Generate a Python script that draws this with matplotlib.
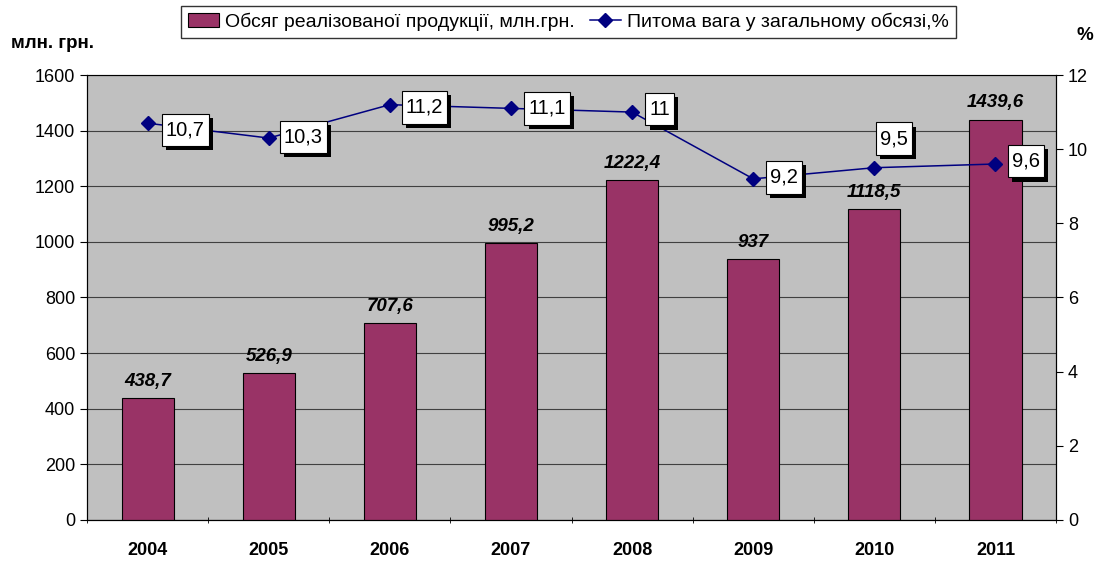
import numpy as np
import matplotlib.pyplot as plt
import matplotlib.patheffects as pe
from matplotlib.path import Path

plt.rcParams['font.family'] = ['Liberation Sans', 'DejaVu Sans']

years = ['2004', '2005', '2006', '2007', '2008', '2009', '2010', '2011']
volume = [438.7, 526.9, 707.6, 995.2, 1222.4, 937, 1118.5, 1439.6]
share = [10.7, 10.3, 11.2, 11.1, 11, 9.2, 9.5, 9.6]

vol_labels = ['438,7', '526,9', '707,6', '995,2', '1222,4', '937', '1118,5', '1439,6']
share_labels = ['10,7', '10,3', '11,2', '11,1', '11', '9,2', '9,5', '9,6']

# label box offsets from points, in points
box_off = [(27, -5), (25, 1), (25, -2), (26, 0), (20, 2), (22, 1), (14, 21), (22, 2)]


def tall_box(x0, y0, width, height, mutation_size):
    # excel-like data label box: little side padding, more on top/bottom
    px, py = 0.2 * mutation_size, 0.33 * mutation_size
    x0, y0 = x0 - px, y0 - py
    x1, y1 = x0 + width + 2 * px, y0 + height + 2 * py
    return Path([(x0, y0), (x1, y0), (x1, y1), (x0, y1), (x0, y0)], closed=True)


fig = plt.figure(figsize=(10.99, 5.61), dpi=100)
ax = fig.add_axes([0.0792, 0.0731, 0.8817, 0.7932])
ax.set_facecolor('#c0c0c0')

x = np.arange(len(years))
bars = ax.bar(x, volume, width=0.43, color='#993366', edgecolor='black', linewidth=0.8, zorder=3,
              label='Обсяг реалізованої продукції, млн.грн.')
for xi, v, s in zip(x, volume, vol_labels):
    ax.annotate(s, (xi, v), xytext=(0, 6), textcoords='offset points', ha='center', va='bottom',
                fontsize=13.5, fontweight='bold', fontstyle='italic', zorder=5)

ax.set_xlim(-0.5, len(years) - 0.5)
ax.set_ylim(0, 1600)
ax.set_yticks(np.arange(0, 1601, 200))
ax.set_xticks(x)
ax.set_xticklabels(years, fontweight='bold', fontsize=13)
ax.set_xticks(np.arange(-0.5, len(years), 1), minor=True)
ax.tick_params(axis='x', which='major', length=0, pad=16)
ax.tick_params(axis='x', which='minor', length=5, direction='inout')
ax.tick_params(axis='y', labelsize=13, length=5, direction='out')
ax.yaxis.grid(True, color='#404040', linewidth=0.8, zorder=0)
ax.set_axisbelow(True)
for side in ['left', 'bottom', 'right']:
    ax.spines[side].set_color('black')
ax.spines['top'].set_color('#808080')

ax2 = ax.twinx()
ax2.set_ylim(0, 12)
ax2.set_yticks(np.arange(0, 13, 2))
ax2.tick_params(axis='y', labelsize=13, length=5, direction='out')
line, = ax2.plot(x, share, color='#000080', marker='D', markersize=7, linewidth=1.1, zorder=4,
                 label='Питома вага у загальному обсязі,%')
for xi, v, s, off in zip(x, share, share_labels, box_off):
    t = ax2.annotate(s, (xi, v), xytext=off, textcoords='offset points', ha='center', va='center',
                     fontsize=14.5, zorder=6,
                     bbox=dict(boxstyle=tall_box, fc='white', ec='black', lw=0.8))
    t.get_bbox_patch().set_path_effects([pe.withSimplePatchShadow(offset=(3, -3), shadow_rgbFace='black', alpha=1.0)])

fig.legend(handles=[bars, line], loc='center', bbox_to_anchor=(0.517, 0.961), ncol=2, frameon=True,
           fancybox=False, edgecolor='black', fontsize=14, handlelength=1.6, handletextpad=0.3,
           columnspacing=0.8, borderpad=0.35)

fig.text(0.01, 0.923, 'млн. грн.', fontweight='bold', fontsize=13.5, va='center')
fig.text(0.987, 0.937, '%', fontweight='bold', fontsize=13.5, va='center', ha='center')

fig.savefig('out.png', dpi=100)
